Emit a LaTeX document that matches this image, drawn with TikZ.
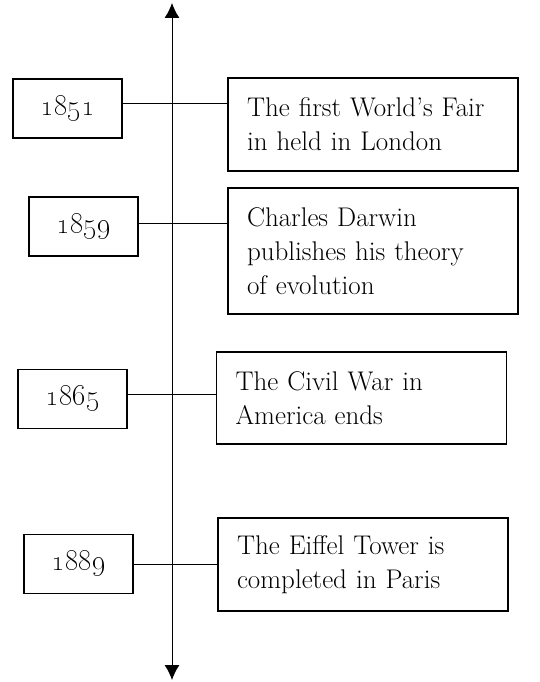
\documentclass[tikz,border=0pt]{standalone}
\usetikzlibrary{arrows.meta}
\begin{document}
\begin{tikzpicture}[x=1pt,y=-1pt,
  yearbox/.style={draw,line width=1.6pt,minimum width=109pt,minimum height=59pt,inner sep=0pt,
    font=\fontsize{29}{34}\selectfont},
  eventbox/.style={draw,line width=1.6pt,inner xsep=19pt,inner ysep=0pt,text width=252pt,align=left,
    font=\fontsize{27}{34}\selectfont},
  link/.style={line width=1pt}]
\useasboundingbox (0,0) rectangle (540,682);
\coordinate (top) at (172,3);
\coordinate (bot) at (172,680);
\draw[line width=1pt,{Latex[length=15pt,width=15pt]}-{Latex[length=15pt,width=15pt]}] (top) -- (bot);
% year boxes
\node[yearbox] (y1) at (67.5,108.5) {\oldstylenums{1851}};
\node[yearbox] (y2) at (83.5,226.5) {\oldstylenums{1859}};
\node[yearbox] (y3) at (72.5,399) {\oldstylenums{1865}};
\node[yearbox] (y4) at (78.5,564) {\oldstylenums{1889}};
% event boxes
\node[eventbox,minimum height=93pt] (e1) at (373,124.5) {The first World’s Fair\\in held in London};
\node[eventbox,minimum height=126pt] (e2) at (373,251) {Charles Darwin\\publishes his theory\\of evolution};
\node[eventbox,minimum height=92pt] (e3) at (361.5,398) {The Civil War in\\America ends};
\node[eventbox,minimum height=93pt] (e4) at (363,564.5) {The Eiffel Tower is\\completed in Paris};
% connectors
\coordinate (c1) at (0,104);
\coordinate (c2) at (0,223);
\coordinate (c3) at (0,394);
\coordinate (c4) at (0,564);
\draw[link] (y1.east |- c1) -- (e1.west |- c1);
\draw[link] (y2.east |- c2) -- (e2.west |- c2);
\draw[link] (y3.east |- c3) -- (e3.west |- c3);
\draw[link] (y4.east |- c4) -- (e4.west |- c4);
\end{tikzpicture}
\end{document}
